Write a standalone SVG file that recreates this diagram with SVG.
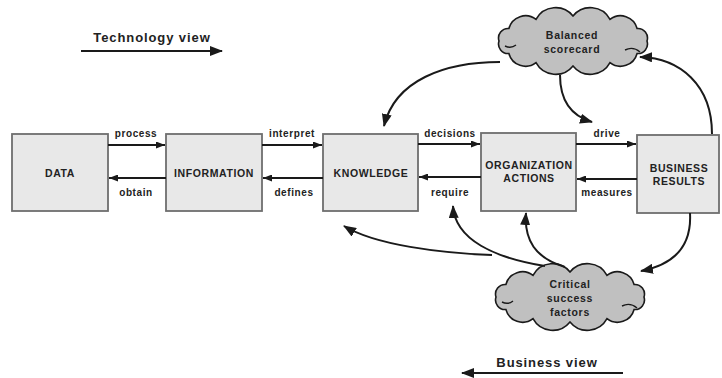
<svg xmlns="http://www.w3.org/2000/svg" xmlns:xlink="http://www.w3.org/1999/xlink" width="722" height="378" viewBox="0 0 722 378">
<style>
text{font-family:"Liberation Sans",Arial,sans-serif;font-weight:bold;fill:#222;text-anchor:middle}
.box{fill:#e8e8e8;stroke:#6e6e6e;stroke-width:1.8}
.bl{font-size:10.5px;letter-spacing:0.6px}
.el{font-size:10px;letter-spacing:0.6px}
.cl{font-size:10.5px;letter-spacing:0.7px}
.vw{font-size:13px;letter-spacing:0.9px}
.ar{fill:none;stroke:#1a1a1a;stroke-width:1.8}
.cv{fill:none;stroke:#1a1a1a;stroke-width:2}
.cloud{fill:#c0c0c0;stroke:#1a1a1a;stroke-width:1.6}
.curl{fill:none;stroke:#1a1a1a;stroke-width:1.4}
</style>
<defs>
<marker id="ah" markerUnits="userSpaceOnUse" markerWidth="9" markerHeight="7" refX="9" refY="3.5" orient="auto">
<path d="M0,0 L9,3.5 L0,7 Z" fill="#1a1a1a"/>
</marker>
<marker id="ahb" markerUnits="userSpaceOnUse" markerWidth="13" markerHeight="10" refX="12" refY="5" orient="auto">
<path d="M0,0 L13,5 L0,10 Z" fill="#1a1a1a"/>
</marker>
<path id="cloudShape" d="M74,0 A9.6,9.6 0 0 1 64.1,12.5 A17.2,17.2 0 0 1 37,21.7 A22.3,22.3 0 0 1 0,25 A22.3,22.3 0 0 1 -37,21.7 A17.2,17.2 0 0 1 -64.1,12.5 A9.6,9.6 0 0 1 -74,0 A9.6,9.6 0 0 1 -64.1,-12.5 A17.2,17.2 0 0 1 -37,-21.7 A22.3,22.3 0 0 1 0,-25 A22.3,22.3 0 0 1 37,-21.7 A17.2,17.2 0 0 1 64.1,-12.5 A9.6,9.6 0 0 1 74,0 Z"/>
<path id="cloudCurl" d="M-68,5 Q-62,8 -57,4 M52,9 Q60,5 67,11"/>
</defs>
<rect width="722" height="378" fill="#fff"/>

<g id="tech-view">
<text class="vw" x="152" y="42">Technology view</text>
<line class="ar" x1="81" y1="51" x2="222" y2="51" marker-end="url(#ahb)"/>
</g>
<g id="business-view">
<text class="vw" x="547" y="367">Business view</text>
<line class="ar" x1="623" y1="373" x2="462" y2="373" marker-end="url(#ahb)"/>
</g>

<g id="data"><rect class="box" x="12" y="134" width="96" height="77"/><text class="bl" x="60" y="177">DATA</text></g>
<g id="information"><rect class="box" x="166" y="134" width="96" height="77"/><text class="bl" x="214" y="177">INFORMATION</text></g>
<g id="knowledge"><rect class="box" x="323" y="134" width="95" height="77"/><text class="bl" x="371" y="177">KNOWLEDGE</text></g>
<g id="organization-actions"><rect class="box" x="481" y="133" width="95" height="78"/><text class="bl" x="529" y="169">ORGANIZATION</text><text class="bl" x="529" y="182">ACTIONS</text></g>
<g id="business-results"><rect class="box" x="637" y="135" width="82" height="78"/><text class="bl" x="679" y="172">BUSINESS</text><text class="bl" x="679" y="185">RESULTS</text></g>

<g id="balanced-scorecard">
<use xlink:href="#cloudShape" class="cloud" transform="translate(573,41)"/>
<use xlink:href="#cloudCurl" class="curl" transform="translate(573,41)"/>
<text class="cl" x="572" y="39">Balanced</text>
<text class="cl" x="572" y="53">scorecard</text>
</g>
<g id="critical-success-factors">
<use xlink:href="#cloudShape" class="cloud" transform="translate(570,297)"/>
<use xlink:href="#cloudCurl" class="curl" transform="translate(570,297)"/>
<text class="cl" x="570" y="288">Critical</text>
<text class="cl" x="570" y="302">success</text>
<text class="cl" x="570" y="316">factors</text>
</g>

<g id="connectors">
<line class="ar" x1="108" y1="145" x2="165" y2="145" marker-end="url(#ah)"/>
<line class="ar" x1="166" y1="178" x2="109" y2="178" marker-end="url(#ah)"/>
<line class="ar" x1="262" y1="145" x2="322" y2="145" marker-end="url(#ah)"/>
<line class="ar" x1="323" y1="178" x2="263" y2="178" marker-end="url(#ah)"/>
<line class="ar" x1="418" y1="144" x2="480" y2="144" marker-end="url(#ah)"/>
<line class="ar" x1="481" y1="177" x2="419" y2="177" marker-end="url(#ah)"/>
<line class="ar" x1="576" y1="144" x2="636" y2="144" marker-end="url(#ah)"/>
<line class="ar" x1="637" y1="179" x2="577" y2="179" marker-end="url(#ah)"/>
<path class="cv" d="M500,62 C445,62 395,80 384,126" marker-end="url(#ahb)"/>
<path class="cv" d="M560,75 C560,105 575,117 592,122" marker-end="url(#ahb)"/>
<path class="cv" d="M712,134 C712,85 680,58 640,57" marker-end="url(#ahb)"/>
<path class="cv" d="M545,266 C495,258 455,240 453,206" marker-end="url(#ahb)"/>
<path class="cv" d="M492,255 C440,253 375,245 344,226" marker-end="url(#ahb)"/>
<path class="cv" d="M565,267 C535,258 524,240 526,213" marker-end="url(#ahb)"/>
<path class="cv" d="M690,213 C692,248 672,265 641,271" marker-end="url(#ahb)"/>
<text class="el" x="136" y="137">process</text>
<text class="el" x="136" y="196">obtain</text>
<text class="el" x="292" y="137">interpret</text>
<text class="el" x="294" y="196">defines</text>
<text class="el" x="450" y="137">decisions</text>
<text class="el" x="450" y="196">require</text>
<text class="el" x="607" y="137">drive</text>
<text class="el" x="607" y="196">measures</text>
</g>
</svg>
